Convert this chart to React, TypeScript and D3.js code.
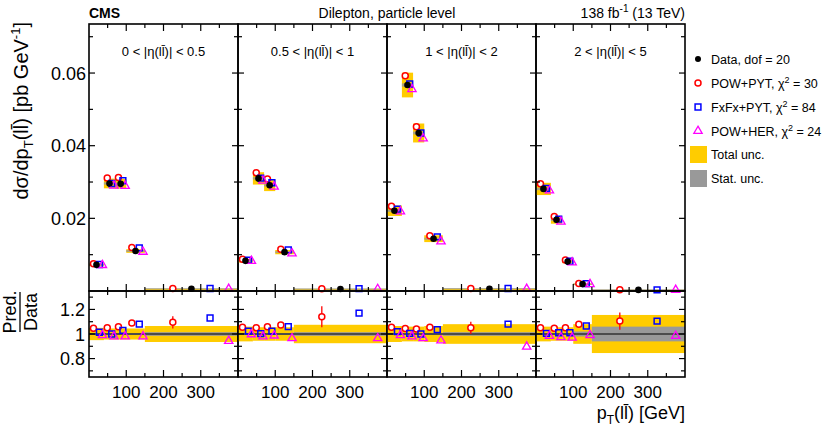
import React from 'react';
import * as d3 from 'd3';

// pT(ll) bin edges, shared by all |eta(ll)| ranges
const binEdges = [0, 40, 70, 100, 150, 400];
const etaLabels = ['0 < |η(ll\u0304)| < 0.5', '0.5 < |η(ll\u0304)| < 1', '1 < |η(ll\u0304)| < 2', '2 < |η(ll\u0304)| < 5'];

// measured cross sections [pb/GeV], one row per eta range
const dataXsec = [
  [0.0072, 0.0296, 0.0295, 0.0110, 0.0006],
  [0.0083, 0.0310, 0.0291, 0.0107, 0.00055],
  [0.0221, 0.0567, 0.0435, 0.0144, 0.00063],
  [0.0281, 0.0196, 0.0081, 0.0019, 0.0003],
];

// prediction / data
const ratioPowPyt = [
  [1.046, 1.05, 1.06, 1.09, 1.095],
  [1.054, 1.05, 1.06, 1.073, 1.14],
  [1.055, 1.045, 1.04, 1.055, 1.05],
  [1.05, 1.046, 1.05, 1.08, 1.105],
];
const errPowPyt = [
  [0.008, 0.008, 0.01, 0.02, 0.05],
  [0.008, 0.008, 0.01, 0.02, 0.085],
  [0.008, 0.008, 0.01, 0.02, 0.05],
  [0.008, 0.008, 0.01, 0.02, 0.07],
];
const ratioFxFx = [
  [1.014, 1.0, 1.03, 1.08, 1.13],
  [1.024, 1.003, 1.024, 1.06, 1.17],
  [1.02, 1.005, 1.0, 1.035, 1.08],
  [1.005, 1.01, 1.01, 1.065, 1.105],
];
const ratioPowHer = [
  [0.99, 0.98, 0.98, 0.98, 0.943],
  [0.997, 0.98, 0.987, 0.965, 0.965],
  [0.99, 0.98, 0.965, 0.947, 0.897],
  [0.984, 0.973, 0.97, 0.99, 0.984],
];

// relative uncertainties
const totUnc = [
  [0.05, 0.045, 0.045, 0.045, 0.065],
  [0.06, 0.055, 0.055, 0.055, 0.075],
  [0.065, 0.06, 0.06, 0.065, 0.08],
  [0.06, 0.055, 0.055, 0.08, 0.155],
];
const statUnc = [
  [0.006, 0.005, 0.005, 0.008, 0.015],
  [0.006, 0.005, 0.005, 0.008, 0.015],
  [0.006, 0.005, 0.005, 0.008, 0.015],
  [0.006, 0.006, 0.008, 0.02, 0.06],
];

const ptMajor = [100, 200, 300];
const ptMinor = [50, 150, 250, 350];
const mainMajor = [0.02, 0.04, 0.06];
const mainMinor = [0.01, 0.03, 0.05, 0.07];
const ratioMajor = [0.8, 1, 1.2];
const ratioMinor = [0.7, 0.9, 1.1, 1.3];

const legendModels = [
  { name: 'POW+PYT', chi2: 30 },
  { name: 'FxFx+PYT', chi2: 84 },
  { name: 'POW+HER', chi2: 24 },
];

const FONT = '"Liberation Sans", Arial, Helvetica, sans-serif';
const YELLOW = '#ffcc00';
const GREY = '#999999';

const W = 831;
const H = 430;
const left = 89;
const panelW = 149;
const mainTop = 24;
const mainBottom = 291;
const ratioBottom = 377;

const yMain = d3.scaleLinear().domain([0, 0.0735]).range([mainBottom, mainTop]);
const yRatio = d3.scaleLinear().domain([0.65, 1.35]).range([ratioBottom, mainBottom]);

const triangle = d3.symbol().type(d3.symbolTriangle).size(30)() as string;
const square = d3.symbol().type(d3.symbolSquare).size(34)() as string;

const Markers: React.FC<{ xs: number[]; ys: number[]; kind: string; errs?: number[][] }> = ({ xs, ys, kind, errs }) => (
  <g>
    {xs.map((x, i) => {
      const y = ys[i];
      if (kind === 'red')
        return (
          <g key={i}>
            {errs && <line x1={x} x2={x} y1={errs[i][0]} y2={errs[i][1]} stroke="#ff0000" strokeWidth={1.3} />}
            <circle cx={x} cy={y} r={3} fill="white" stroke="#ff0000" strokeWidth={1.5} />
          </g>
        );
      if (kind === 'blue')
        return <path key={i} d={square} transform={`translate(${x},${y})`} fill="none" stroke="#0000ff" strokeWidth={1.5} />;
      if (kind === 'mag')
        return <path key={i} d={triangle} transform={`translate(${x},${y})`} fill="none" stroke="#ff00ff" strokeWidth={1.3} />;
      return <circle key={i} cx={x} cy={y} r={3.3} fill="black" />;
    })}
  </g>
);

const Panel: React.FC<{ p: number }> = ({ p }) => {
  const x0 = left + p * panelW;
  const x = d3.scaleLinear().domain([0, 400]).range([x0, x0 + panelW]);
  const bins = d3.range(binEdges.length - 1);
  const centre = (i: number) => (binEdges[i] + binEdges[i + 1]) / 2;
  const width = (i: number) => binEdges[i + 1] - binEdges[i];
  const xPos = (off: number) => bins.map(i => x(centre(i) + off * width(i)));
  const data = dataXsec[p];

  const ticksX = (y: number, dir: number) => (
    <g stroke="black" strokeWidth={1.2}>
      {ptMajor.map(t => <line key={'M' + t} x1={x(t)} x2={x(t)} y1={y} y2={y + dir * 7} />)}
      {ptMinor.map(t => <line key={'m' + t} x1={x(t)} x2={x(t)} y1={y} y2={y + dir * 4} />)}
    </g>
  );
  const ticksY = (sc: d3.ScaleLinear<number, number>, major: number[], minor: number[]) => (
    <g stroke="black" strokeWidth={1.2}>
      {major.map(t => (
        <g key={'M' + t}>
          <line x1={x0} x2={x0 + 6} y1={sc(t)} y2={sc(t)} />
          <line x1={x0 + panelW} x2={x0 + panelW - 6} y1={sc(t)} y2={sc(t)} />
        </g>
      ))}
      {minor.map(t => (
        <g key={'m' + t}>
          <line x1={x0} x2={x0 + 4} y1={sc(t)} y2={sc(t)} />
          <line x1={x0 + panelW} x2={x0 + panelW - 4} y1={sc(t)} y2={sc(t)} />
        </g>
      ))}
    </g>
  );

  return (
    <g>
      {/* main panel uncertainty boxes */}
      {bins.map(i => (
        <g key={'b' + i}>
          <rect x={x(binEdges[i])} width={x(binEdges[i + 1]) - x(binEdges[i])}
            y={yMain(data[i] * (1 + totUnc[p][i]))} height={Math.max(1.5, yMain(data[i] * (1 - totUnc[p][i])) - yMain(data[i] * (1 + totUnc[p][i])))}
            fill={YELLOW} />
          <rect x={x(binEdges[i])} width={x(binEdges[i + 1]) - x(binEdges[i])}
            y={yMain(data[i] * (1 + statUnc[p][i])) - 0.6} height={yMain(data[i] * (1 - statUnc[p][i])) - yMain(data[i] * (1 + statUnc[p][i])) + 1.2}
            fill={GREY} opacity={0.8} />
        </g>
      ))}
      <Markers kind="red" xs={xPos(-0.2)} ys={bins.map(i => yMain(data[i] * ratioPowPyt[p][i]))}
        errs={bins.map(i => [yMain(data[i] * (ratioPowPyt[p][i] - errPowPyt[p][i])), yMain(data[i] * (ratioPowPyt[p][i] + errPowPyt[p][i]))])} />
      <Markers kind="blue" xs={xPos(0.2)} ys={bins.map(i => yMain(data[i] * ratioFxFx[p][i]))} />
      <Markers kind="mag" xs={xPos(0.4)} ys={bins.map(i => yMain(data[i] * ratioPowHer[p][i]))} />
      <Markers kind="data" xs={xPos(0)} ys={bins.map(i => yMain(data[i]))} />

      {/* ratio panel */}
      {bins.map(i => (
        <g key={'r' + i}>
          <rect x={x(binEdges[i])} width={x(binEdges[i + 1]) - x(binEdges[i])}
            y={yRatio(1 + totUnc[p][i])} height={yRatio(1 - totUnc[p][i]) - yRatio(1 + totUnc[p][i])} fill={YELLOW} />
          <rect x={x(binEdges[i])} width={x(binEdges[i + 1]) - x(binEdges[i])}
            y={yRatio(1 + statUnc[p][i])} height={yRatio(1 - statUnc[p][i]) - yRatio(1 + statUnc[p][i])} fill={GREY} />
        </g>
      ))}
      <line x1={x0} x2={x0 + panelW} y1={yRatio(1)} y2={yRatio(1)} stroke="#333" strokeWidth={1.5} />
      <Markers kind="red" xs={xPos(-0.2)} ys={bins.map(i => yRatio(ratioPowPyt[p][i]))}
        errs={bins.map(i => [yRatio(ratioPowPyt[p][i] - errPowPyt[p][i]), yRatio(ratioPowPyt[p][i] + errPowPyt[p][i])])} />
      <Markers kind="blue" xs={xPos(0.2)} ys={bins.map(i => yRatio(ratioFxFx[p][i]))} />
      <Markers kind="mag" xs={xPos(0.4)} ys={bins.map(i => yRatio(ratioPowHer[p][i]))} />

      {/* frames and ticks */}
      <rect x={x0} y={mainTop} width={panelW} height={mainBottom - mainTop} fill="none" stroke="black" strokeWidth={1.6} />
      <rect x={x0} y={mainBottom} width={panelW} height={ratioBottom - mainBottom} fill="none" stroke="black" strokeWidth={1.6} />
      {ticksX(mainTop, 1)}
      {ticksX(mainBottom, -1)}
      {ticksX(mainBottom, 1)}
      {ticksX(ratioBottom, -1)}
      {ticksY(yMain, mainMajor, mainMinor)}
      {ticksY(yRatio, ratioMajor, ratioMinor)}

      <text x={x0 + panelW / 2} y={56} textAnchor="middle" fontSize={13}>{etaLabels[p]}</text>
      {ptMajor.map(t => (
        <text key={t} x={x(t)} y={398} textAnchor="middle" fontSize={17}>{t}</text>
      ))}
    </g>
  );
};

const App: React.FC = () => {
  const legX = 698;
  const legY0 = 59;
  const legStep = 24;
  return (
    <svg width={W} height={H} style={{ position: 'absolute', left: 0, top: 0, background: 'white' }} fontFamily={FONT}>
      <rect width={W} height={H} fill="white" />
      {d3.range(4).map(p => <Panel key={p} p={p} />)}

      {/* y tick labels */}
      {mainMajor.map(t => (
        <text key={t} x={86} y={yMain(t) + 6.5} textAnchor="end" fontSize={18}>{t.toFixed(2)}</text>
      ))}
      {ratioMajor.map(t => (
        <text key={t} x={85} y={yRatio(t) + 6.5} textAnchor="end" fontSize={18}>{t === 1 ? '1' : t.toFixed(1)}</text>
      ))}

      {/* header */}
      <text x={89} y={18} fontSize={14} fontWeight="bold">CMS</text>
      <text x={left + 2 * panelW} y={18} fontSize={14} textAnchor="middle">Dilepton, particle level</text>
      <text x={left + 4 * panelW} y={18} fontSize={14} textAnchor="end">
        138 fb<tspan dy={-6} fontSize={10}>-1</tspan><tspan dy={6}> (13 TeV)</tspan>
      </text>

      {/* axis titles */}
      <text transform="translate(28,22) rotate(-90)" textAnchor="end" fontSize={20}>
        dσ/dp<tspan dy={5} fontSize={13}>T</tspan><tspan dy={-5}>(ll{'\u0304'}) [pb GeV</tspan>
        <tspan dy={-8} fontSize={13}>-1</tspan><tspan dy={8}>]</tspan>
      </text>
      <g transform="translate(0,312) rotate(-90)">
        <text x={0} y={16} textAnchor="middle" fontSize={18}>Pred.</text>
        <line x1={-20} x2={20} y1={20} y2={20} stroke="black" strokeWidth={1.3} />
        <text x={0} y={37} textAnchor="middle" fontSize={18}>Data</text>
      </g>
      <text x={left + 4 * panelW} y={419} textAnchor="end" fontSize={18}>
        p<tspan dy={5} fontSize={12}>T</tspan><tspan dy={-5}>(ll{'\u0304'}) [GeV]</tspan>
      </text>

      {/* legend */}
      <g fontSize={12.5}>
        <circle cx={legX} cy={legY0} r={3} fill="black" />
        <text x={711} y={legY0 + 4.5}>Data, dof = 20</text>
        {legendModels.map((m, i) => {
          const y = legY0 + legStep * (i + 1);
          return (
            <g key={m.name}>
              {i === 0 && <circle cx={legX} cy={y} r={3} fill="white" stroke="#ff0000" strokeWidth={1.5} />}
              {i === 1 && <path d={square} transform={`translate(${legX},${y})`} fill="none" stroke="#0000ff" strokeWidth={1.5} />}
              {i === 2 && <path d={triangle} transform={`translate(${legX},${y})`} fill="none" stroke="#ff00ff" strokeWidth={1.3} />}
              <text x={711} y={y + 4.5}>
                {m.name}, χ<tspan dy={-5} fontSize={9}>2</tspan><tspan dy={5}> = {m.chi2}</tspan>
              </text>
            </g>
          );
        })}
        <rect x={690} y={146} width={17} height={17} fill={YELLOW} />
        <text x={711} y={159}>Total unc.</text>
        <rect x={690} y={170} width={17} height={17} fill={GREY} />
        <text x={711} y={183}>Stat. unc.</text>
      </g>
    </svg>
  );
};

export default App;
